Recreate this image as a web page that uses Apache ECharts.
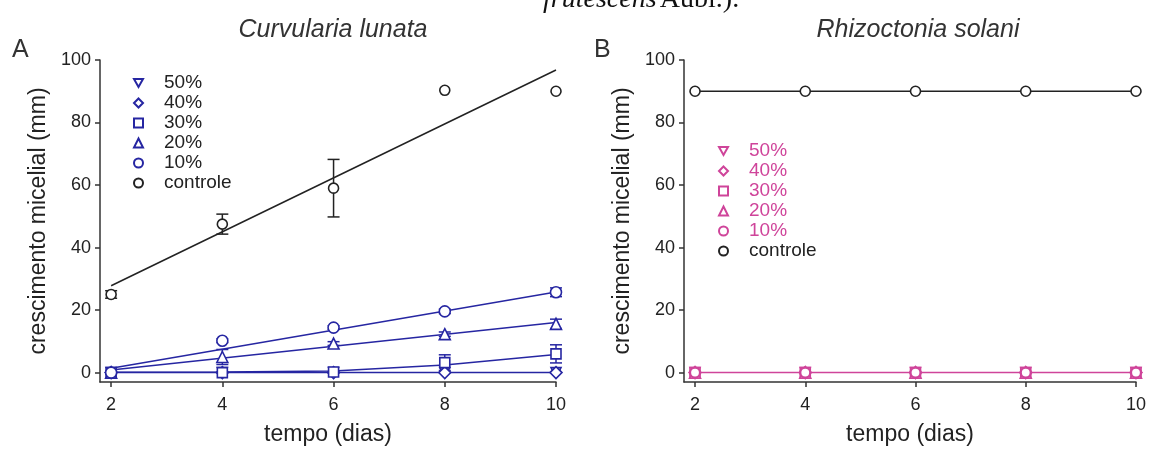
<!DOCTYPE html>
<html>
<head>
<meta charset="utf-8">
<script src="https://cdn.jsdelivr.net/npm/echarts@6/dist/echarts.min.js"></script>
<style>
  html, body { margin: 0; padding: 0; background: #fff; }
  #chart { width: 1149px; height: 451px; }
</style>
</head>
<body>
<div id="chart"></div>
<script>
// days on x axis
const days = [2, 4, 6, 8, 10];
const xTicks = [2, 4, 6, 8, 10];
const yTicks = [0, 20, 40, 60, 80, 100];

// panel A - Curvularia lunata (mean, error)
const ctrlA = [25, 47.5, 59, 90.3, 90];
const ctrlAErr = [1.2, 3.2, 9.2, 0, 0];
const a10 = [0, 10.2, 14.4, 19.6, 25.7];
const a10Err = [0.5, 0.6, 0.6, 0.7, 1.4];
const a20 = [0, 5.0, 9.3, 12.3, 15.6];
const a20Err = [0, 2.4, 0.6, 0.7, 1.5];
const a30 = [0, 0, 0.2, 3.2, 6.0];
const a30Err = [0, 0, 0, 2.5, 2.9];
const a40 = [0, 0, 0, 0, 0];
const a50 = [0, 0, 0, 0, 0];

// fitted lines in panel A (values read at x = 2 and x = 10)
const fitX = [2, 10];
const ctrlAFit = [27.8, 96.8];
const a10Fit = [1.4, 25.8];
const a20Fit = [0.8, 16.0];
const a30Curve = [0.1, 0.2, 0.5, 2.4, 5.8];
const a40Fit = [0, 0];

// panel B - Rhizoctonia solani
const ctrlB = [90, 90, 90, 90, 90];
const b10 = [0, 0, 0, 0, 0];
const b20 = [0, 0, 0, 0, 0];
const b30 = [0, 0, 0, 0, 0];
const b40 = [0, 0, 0, 0, 0];
const b50 = [0, 0, 0, 0, 0];

const BLUE = "#2626a2";
const PINK = "#cf449a";
const INK = "#222";
const FONT = "Liberation Sans, Arial, sans-serif";
const TRI_DOWN = "path://M0,0L10,0L5,9Z";

const pairs = (xs, ys) => xs.map((x, i) => [x, ys[i]]);
const withErr = (vals, errs) => days.map((d, i) => [d, vals[i], errs[i]]);

const chart = echarts.init(document.getElementById("chart"));

const xAxisBase = (gridIndex) => ({
  type: "value",
  gridIndex,
  min: 1.8,
  max: 10,
  name: "tempo (dias)",
  nameLocation: "middle",
  nameGap: 41,
  nameTextStyle: { fontFamily: FONT, fontSize: 23, color: INK },
  splitLine: { show: false },
  axisLine: { onZero: false, lineStyle: { color: "#333", width: 1.5 } },
  axisTick: { customValues: xTicks, length: 5, lineStyle: { color: "#333", width: 1.5 } },
  axisLabel: { customValues: xTicks, fontFamily: FONT, fontSize: 18, color: INK, margin: 14 },
});

const yAxisBase = (gridIndex) => ({
  type: "value",
  gridIndex,
  min: -3,
  max: 100,
  name: "crescimento micelial (mm)",
  nameLocation: "middle",
  nameGap: 50,
  nameTextStyle: { fontFamily: FONT, fontSize: 23, color: INK },
  splitLine: { show: false },
  axisLine: { onZero: false, lineStyle: { color: "#333", width: 1.5 } },
  axisTick: { customValues: yTicks, length: 5, lineStyle: { color: "#333", width: 1.5 } },
  axisLabel: { customValues: yTicks, fontFamily: FONT, fontSize: 18, color: INK, margin: 9 },
});

const errBars = (idx, vals, errs, color) => ({
  type: "custom",
  xAxisIndex: idx,
  yAxisIndex: idx,
  z: 2,
  silent: true,
  data: withErr(vals, errs),
  renderItem: (params, api) => {
    const x = api.value(0), y = api.value(1), e = api.value(2);
    if (!e) return;
    const top = api.coord([x, y + e]);
    const bot = api.coord([x, y - e]);
    const style = { stroke: color, lineWidth: 1.5 };
    return {
      type: "group",
      children: [
        { type: "line", shape: { x1: top[0], y1: top[1], x2: bot[0], y2: bot[1] }, style },
        { type: "line", shape: { x1: top[0] - 6, y1: top[1], x2: top[0] + 6, y2: top[1] }, style },
        { type: "line", shape: { x1: bot[0] - 6, y1: bot[1], x2: bot[0] + 6, y2: bot[1] }, style },
      ],
    };
  },
});

const fitLine = (idx, xs, ys, color) => ({
  type: "line",
  xAxisIndex: idx,
  yAxisIndex: idx,
  z: 1,
  silent: true,
  symbol: "none",
  data: pairs(xs, ys),
  lineStyle: { color, width: 1.5 },
});

const points = (idx, name, vals, symbol, size, color, bw) => ({
  type: "scatter",
  name,
  xAxisIndex: idx,
  yAxisIndex: idx,
  z: 3,
  symbol,
  symbolSize: size,
  data: pairs(days, vals),
  itemStyle: { color: "#fff", opacity: 1, borderColor: color, borderWidth: bw || 1.6 },
});

// series names carry a panel prefix ("A" / "B"), the legend hides it
const legendText = (name) => name.slice(1);

chart.setOption({
  animation: false,
  title: [
    { text: "Curvularia lunata", left: 328, top: 13, textAlign: "center",
      textStyle: { fontFamily: FONT, fontStyle: "italic", fontWeight: "normal", fontSize: 25, color: "#333" } },
    { text: "Rhizoctonia solani", left: 913, top: 13, textAlign: "center",
      textStyle: { fontFamily: FONT, fontStyle: "italic", fontWeight: "normal", fontSize: 25, color: "#333" } },
  ],
  graphic: [
    { type: "text", left: 12, top: 38, style: { text: "A", font: "25px " + FONT, fill: "#333" } },
    { type: "text", left: 594, top: 38, style: { text: "B", font: "25px " + FONT, fill: "#333" } },
    {
      type: "text", left: 543, top: -14,
      style: {
        text: "{i|frutescens} {n|Aubl.).}",
        rich: {
          i: { fontFamily: "Liberation Serif, serif", fontStyle: "italic", fontSize: 28, fill: "#111" },
          n: { fontFamily: "Liberation Serif, serif", fontSize: 28, fill: "#111" },
        },
      },
    },
  ],
  grid: [
    { left: 100, top: 60, width: 456, height: 328, containLabel: false },
    { left: 684, top: 60, width: 455, height: 328, containLabel: false },
  ],
  xAxis: [xAxisBase(0), xAxisBase(1)],
  yAxis: [yAxisBase(0), yAxisBase(1)],
  legend: [
    {
      orient: "vertical", left: 128, top: 68, itemGap: 0, itemWidth: 9, itemHeight: 9,
      formatter: legendText,
      textStyle: { fontFamily: FONT, fontSize: 19, color: INK, lineHeight: 20, padding: [0, 0, 0, 16] },
      data: ["A50%", "A40%", "A30%", "A20%", "A10%",
        { name: "Acontrole", itemStyle: { borderColor: INK } }],
    },
    {
      orient: "vertical", left: 713, top: 136, itemGap: 0, itemWidth: 9, itemHeight: 9,
      formatter: legendText,
      textStyle: { fontFamily: FONT, fontSize: 19, color: PINK, lineHeight: 20, padding: [0, 0, 0, 16] },
      data: ["B50%", "B40%", "B30%", "B20%", "B10%",
        { name: "Bcontrole", textStyle: { color: INK } }],
    },
  ],
  series: [
    // panel A
    fitLine(0, fitX, ctrlAFit, INK),
    fitLine(0, fitX, a10Fit, BLUE),
    fitLine(0, fitX, a20Fit, BLUE),
    fitLine(0, days, a30Curve, BLUE),
    fitLine(0, fitX, a40Fit, BLUE),
    errBars(0, ctrlA, ctrlAErr, INK),
    errBars(0, a10, a10Err, BLUE),
    errBars(0, a20, a20Err, BLUE),
    errBars(0, a30, a30Err, BLUE),
    points(0, "A50%", a50, TRI_DOWN, 10, BLUE),
    points(0, "A40%", a40, "diamond", 12, BLUE),
    points(0, "A30%", a30, "rect", 10, BLUE),
    points(0, "A20%", a20, "triangle", 11, BLUE),
    points(0, "A10%", a10, "circle", 11, BLUE),
    points(0, "Acontrole", ctrlA, "circle", 10, INK),
    // panel B
    fitLine(1, days, ctrlB, INK),
    fitLine(1, days, b10, PINK),
    points(1, "B50%", b50, TRI_DOWN, 10, PINK),
    points(1, "B40%", b40, "diamond", 12, PINK),
    points(1, "B30%", b30, "rect", 10, PINK),
    points(1, "B20%", b20, "triangle", 11, PINK),
    points(1, "B10%", b10, "circle", 10, PINK, 2.2),
    points(1, "Bcontrole", ctrlB, "circle", 10, INK),
  ],
});
</script>
</body>
</html>
